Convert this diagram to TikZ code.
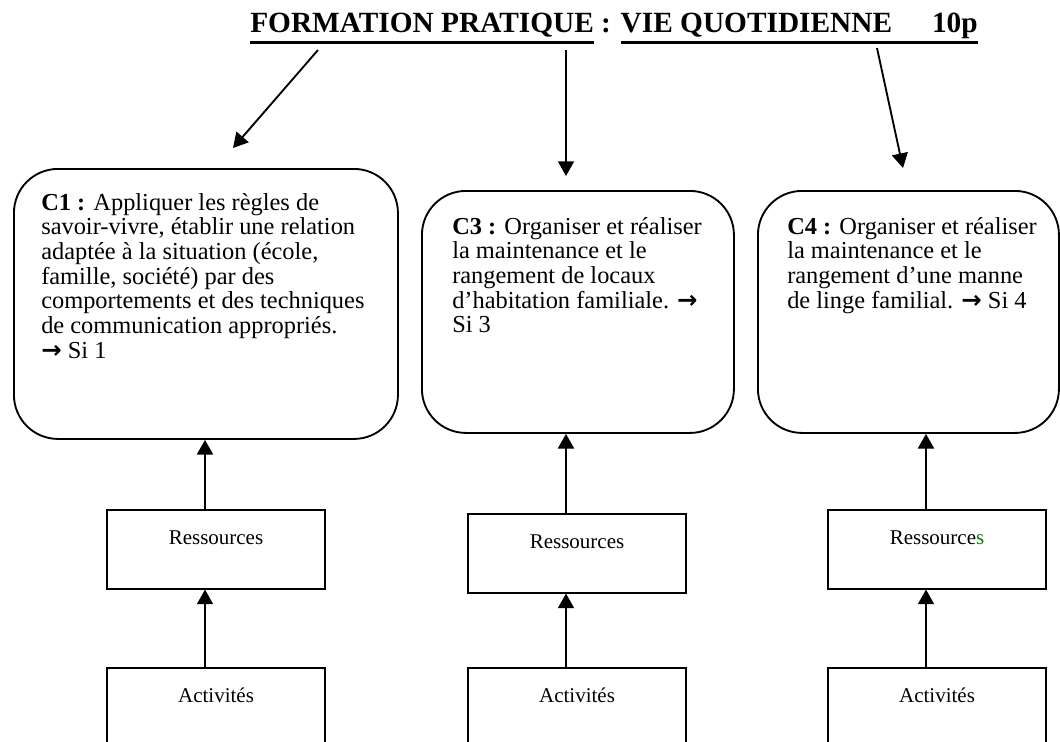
\documentclass[tikz,border=0pt]{standalone}
\usepackage{fontspec}
\setmainfont{Liberation Serif}
\newfontfamily\symfont{DejaVu Sans}
\usetikzlibrary{arrows.meta, positioning}
\definecolor{resgreen}{RGB}{0,128,0}
\newcommand{\thickul}[1]{\setbox0\hbox{#1}\rlap{\rule[-8pt]{\wd0}{2.2pt}}\box0\relax}
\newcommand{\toarrow}{{\symfont\bfseries →}}

\begin{document}
\begin{tikzpicture}[x=0.75pt, y=-0.75pt,
    cbox/.style={draw, line width=1.4pt, rounded corners=33pt, inner sep=0pt},
    ctext/.style={anchor=north west, inner sep=0pt, align=left, font=\fontsize{18.3}{18.5}\selectfont},
    rbox/.style={draw, line width=1.4pt, minimum width=164pt, minimum height=59pt,
      align=center, inner sep=0pt, font=\fontsize{15.75}{18}\selectfont},
    pointer/.style={-{Triangle[width=12pt,length=11pt]}, line width=1.4pt}]
      \clip (0,0) rectangle (1060,742);

      \node[anchor=base west, inner sep=0pt, font=\fontsize{22}{24}\selectfont\bfseries] (title) at (250,33)
        {\thickul{FORMATION PRATIQUE} : \thickul{VIE QUOTIDIENNE\hspace{30pt}10p}};

      % competences
      \node[cbox, minimum width=288pt, minimum height=202.5pt, anchor=north west] (c1) at (13,168) {};
      \node[cbox, minimum width=234pt, minimum height=181.5pt, anchor=north west] (c3) at (421,190) {};
      \node[cbox, minimum width=225.75pt, minimum height=181.5pt, anchor=north west] (c4) at (757,190) {};

      \node[ctext] (c1txt) at (41,193) {\textbf{C1 :} Appliquer les règles de\\
        savoir-vivre, établir une relation\\
        adaptée à la situation (école,\\
        famille, société) par des\\
        comportements et des techniques\\
        de communication appropriés.\\
        \toarrow{} Si 1};
      \node[ctext] (c3txt) at (452,217) {\textbf{C3 :} Organiser et réaliser\\
        la maintenance et le\\
        rangement de locaux\\
        d’habitation familiale. \toarrow\\
        Si 3};
      \node[ctext] (c4txt) at (787,217) {\textbf{C4 :} Organiser et réaliser\\
        la maintenance et le\\
        rangement d’une manne\\
        de linge familial. \toarrow{} Si 4};

      % ressources / activites
      \node[rbox, anchor=north] (res1) at (216,509) {Ressources\\\mbox{}};
      \node[rbox, anchor=north] (res3) at (577,513) {Ressources\\\mbox{}};
      \node[rbox, anchor=north] (res4) at (937,509) {Ressource\textcolor{resgreen}{s}\\\mbox{}};
      \node[rbox, anchor=north] (act1) at (216,667) {Activités\\\mbox{}};
      \node[rbox, anchor=north] (act3) at (577,667) {Activités\\\mbox{}};
      \node[rbox, anchor=north] (act4) at (937,667) {Activités\\\mbox{}};

      \coordinate (t1) at (318,50);
      \coordinate (h1) at (233,148);
      \coordinate (t3) at (566,50);
      \coordinate (h3) at (566,176);
      \coordinate (t4) at (877,48);
      \coordinate (h4) at (903,168);
      \draw[pointer] (t1) -- (h1);
      \draw[pointer] (t3) -- (h3);
      \draw[pointer] (t4) -- (h4);

      \draw[pointer] ([xshift=-8.25pt]act1.north) -- ([xshift=-8.25pt]res1.south);
      \draw[pointer] ([xshift=-8.25pt]res1.north) -- ([xshift=-8.25pt]res1.north |- c1.south);
      \draw[pointer] ([xshift=-8.25pt]act3.north) -- ([xshift=-8.25pt]res3.south);
      \draw[pointer] ([xshift=-8.25pt]res3.north) -- ([xshift=-8.25pt]res3.north |- c3.south);
      \draw[pointer] ([xshift=-8.25pt]act4.north) -- ([xshift=-8.25pt]res4.south);
      \draw[pointer] ([xshift=-8.25pt]res4.north) -- ([xshift=-8.25pt]res4.north |- c4.south);
    \end{tikzpicture}
\end{document}
